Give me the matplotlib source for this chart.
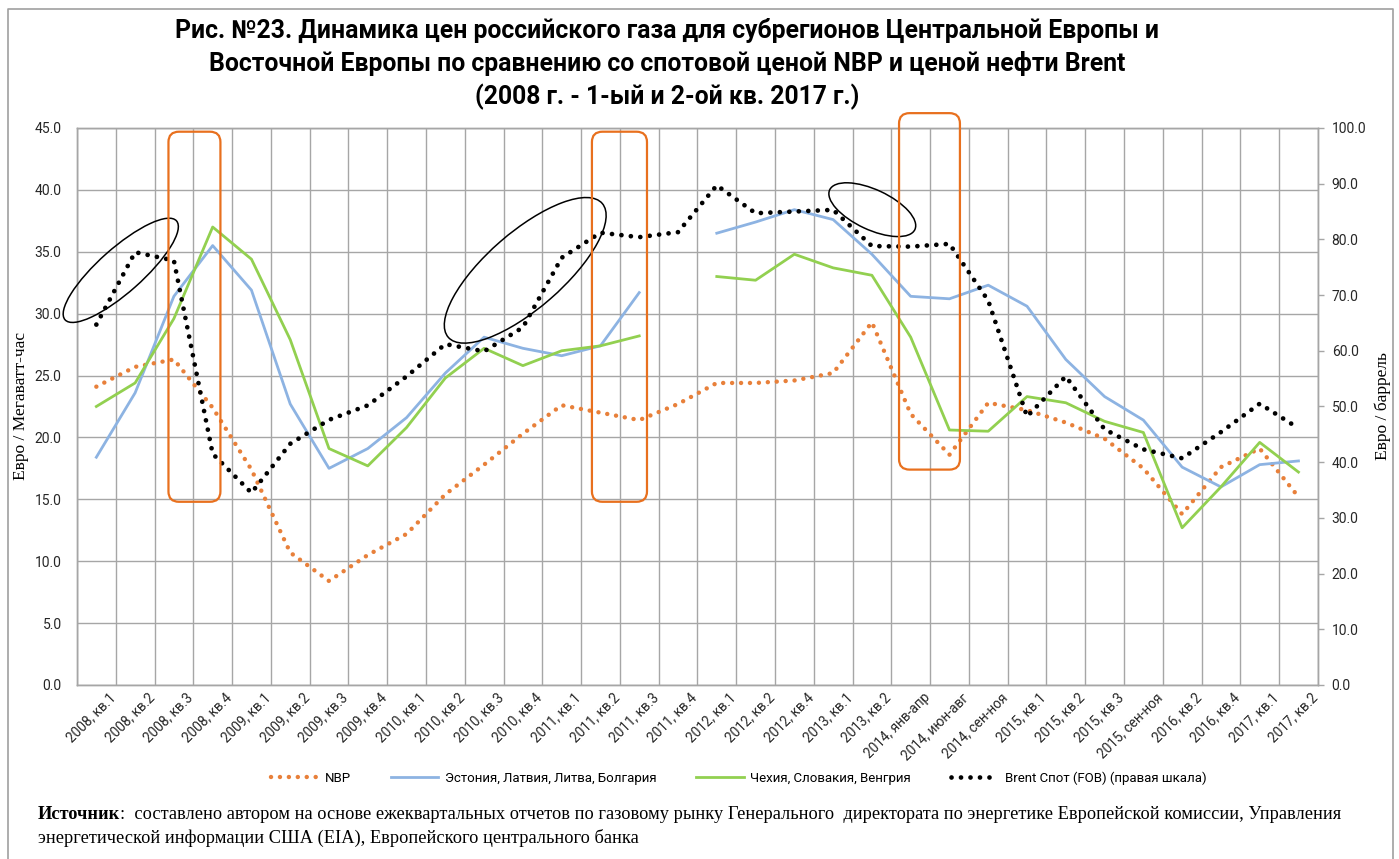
import numpy as np
import matplotlib
matplotlib.use('Agg')
import matplotlib.pyplot as plt
from matplotlib.patches import Ellipse, FancyBboxPatch
from matplotlib.lines import Line2D
from matplotlib.transforms import ScaledTranslation

plt.rcParams['font.family'] = ['Roboto', 'DejaVu Sans']

# Data
categories = ['2008, кв.1', '2008, кв.2', '2008, кв.3', '2008, кв.4',
              '2009, кв.1', '2009, кв.2', '2009, кв.3', '2009, кв.4',
              '2010, кв.1', '2010, кв.2', '2010, кв.3', '2010, кв.4',
              '2011, кв.1', '2011, кв.2', '2011, кв.3', '2011, кв.4',
              '2012, кв.1', '2012, кв.2', '2012, кв.4', '2013, кв.1',
              '2013, кв.2', '2014, янв-апр', '2014, июн-авг', '2014, сен-ноя',
              '2015, кв.1', '2015, кв.2', '2015, кв.3', '2015, сен-ноя',
              '2016, кв.2', '2016, кв.4', '2017, кв.1', '2017, кв.2']

nbp = [24.1, 25.7, 26.3, 22.4, 17.4, 10.7, 8.4, 10.5,
       12.2, 15.4, 17.8, 20.3, 22.6, 22.0, 21.4, 22.7,
       24.4, 24.4, 24.6, 25.2, 29.3, 21.9, 18.6, 22.8,
       22.2, 21.2, 19.9, 17.5, 13.8, 17.6, 19.1, 15.2]

baltic = [18.4, 23.6, 31.4, 35.5, 31.9, 22.7, 17.5, 19.1,
          21.6, 25.2, 28.1, 27.2, 26.6, 27.4, 31.7, np.nan,
          36.5, 37.4, 38.4, 37.6, 34.8, 31.4, 31.2, 32.3,
          30.6, 26.3, 23.3, 21.4, 17.6, 16.0, 17.8, 18.1]

central = [22.5, 24.4, 29.6, 37.0, 34.4, 27.9, 19.1, 17.7,
           20.8, 24.8, 27.2, 25.8, 27.0, 27.4, 28.2, np.nan,
           33.0, 32.7, 34.8, 33.7, 33.1, 28.1, 20.6, 20.5,
           23.3, 22.8, 21.3, 20.4, 12.7, 16.0, 19.6, 17.2]

brent = [64.7, 77.7, 76.2, 41.5, 34.5, 43.3, 47.6, 50.2,
         55.4, 61.2, 59.9, 64.2, 76.7, 81.2, 80.4, 81.3,
         89.7, 84.7, 85.0, 85.3, 78.8, 78.7, 79.2, 69.0,
         48.2, 55.4, 45.9, 42.3, 40.7, 45.4, 50.5, 46.1]

labels = ['NBP', 'Эстония, Латвия, Литва, Болгария',
          'Чехия, Словакия, Венгрия', 'Brent Спот (FOB) (правая шкала)']

c_nbp = '#E8803A'
c_baltic = '#8DB3E2'
c_central = '#92D050'
c_box = '#E8701E'
grid_c = '#A6A6A6'

fig = plt.figure(figsize=(13.99, 8.59), dpi=100)
fig.subplots_adjust(left=0.055, right=0.942, top=0.851, bottom=0.2026)
ax = fig.add_subplot(111)
ax2 = ax.twinx()

x = np.arange(len(categories))
dot = (0, (0.01, 2.0))
ax.plot(x, nbp, color=c_nbp, lw=3.2, linestyle=dot, dash_capstyle='round', zorder=3)
ax.plot(x, baltic, color=c_baltic, lw=2.0, zorder=3)
ax.plot(x, central, color=c_central, lw=2.0, zorder=3)
ax2.plot(x, brent, color='black', lw=3.4, linestyle=dot, dash_capstyle='round', zorder=3)

ax.set_xlim(-0.5, len(categories) - 0.5)
ax.set_ylim(0, 45)
ax2.set_ylim(0, 100)
ax.set_yticks(np.arange(0, 45.1, 5))
ax2.set_yticks(np.arange(0, 100.1, 10))
ax.set_yticklabels([f'{v:.1f}' for v in np.arange(0, 45.1, 5)])
ax2.set_yticklabels([f'{v:.1f}' for v in np.arange(0, 100.1, 10)])

ax.set_xticks(x)
ax.set_xticklabels(categories, rotation=45, ha='right', va='top', rotation_mode='anchor')
ax.set_xticks(np.arange(-0.5, len(categories), 1), minor=True)
ax.tick_params(axis='x', which='both', length=0, labelsize=9.8, colors='#262626', pad=4)
offset = ScaledTranslation(0.12, 0, fig.dpi_scale_trans)
for lbl in ax.get_xticklabels():
    lbl.set_transform(lbl.get_transform() + offset)
ax.tick_params(axis='y', length=0, labelsize=10, colors='#262626', pad=11)
ax2.tick_params(axis='y', length=4, width=1, color=grid_c, labelsize=10,
                labelcolor='#262626', pad=6)

ax.grid(axis='y', which='major', color=grid_c, lw=1)
ax.grid(axis='x', which='minor', color=grid_c, lw=1)
ax.set_axisbelow(True)
for a in (ax, ax2):
    for s in a.spines.values():
        s.set_color(grid_c)
        s.set_linewidth(1)

ax.set_ylabel('Евро / Мегаватт-час', family='Liberation Serif', fontsize=12.5, labelpad=4)
ax2.set_ylabel('Евро / баррель', family='Liberation Serif', fontsize=12.5, labelpad=6,
               rotation=90)

# annotation ellipses (sizes in inches, centred on data points of the left axis)
ellipses = [(0.63, 33.5, 1.49, 0.44, 41.6),
            (11.06, 33.5, 2.04, 0.76, 41.0),
            (20.01, 38.4, 0.94, 0.40, -25.0)]
for ex, ey, w, h, ang in ellipses:
    t = fig.dpi_scale_trans + ScaledTranslation(ex, ey, ax.transData)
    ax2.add_patch(Ellipse((0, 0), w, h, angle=ang, transform=t, fill=False,
                          edgecolor='black', lw=1.1, clip_on=False, zorder=5))

# orange highlight boxes (category span, left-axis values)
boxes = [(1.86, 3.20, 14.8, 44.7),
         (12.78, 14.20, 14.8, 44.7),
         (20.70, 22.27, 17.4, 46.2)]
for x0, x1, y0, y1 in boxes:
    ax2.add_patch(FancyBboxPatch((x0, y0), x1 - x0, y1 - y0,
                                 boxstyle='round,pad=0,rounding_size=0.27',
                                 mutation_aspect=3.1, transform=ax.transData,
                                 fill=False, edgecolor=c_box, lw=1.6,
                                 clip_on=False, zorder=5))

title_lines = ['Рис. №23. Динамика цен российского газа для субрегионов Центральной Европы и',
               'Восточной Европы по сравнению со спотовой ценой NBP и ценой нефти Brent',
               '(2008 г. - 1-ый и 2-ой кв. 2017 г.)']
for line, ty in zip(title_lines, [0.965, 0.926, 0.887]):
    fig.text(0.477, ty, line, ha='center', va='center', fontsize=17.8, fontweight='bold')

handles = [Line2D([], [], color=c_nbp, lw=3.2, linestyle=dot, dash_capstyle='round'),
           Line2D([], [], color=c_baltic, lw=2.0),
           Line2D([], [], color=c_central, lw=2.0),
           Line2D([], [], color='black', lw=3.4, linestyle=dot, dash_capstyle='round')]
fig.legend(handles, labels, loc='center', bbox_to_anchor=(0.528, 0.094), ncol=4,
           frameon=False, fontsize=9.5, handlelength=3.6, columnspacing=3.0,
           handletextpad=0.5)

src_rest = (':  составлено автором на основе ежеквартальных отчетов по газовому рынку '
            'Генерального  директората по энергетике Европейской комиссии, Управления')
src = fig.text(0.027, 0.046, 'Источник', family='Liberation Serif', fontsize=13.2,
               fontweight='bold', va='baseline')
ax.annotate(src_rest, xy=(1, 0), xycoords=src, va='bottom', ha='left',
            family='Liberation Serif', fontsize=13.2, annotation_clip=False)
fig.text(0.027, 0.019, 'энергетической информации США (EIA), Европейского центрального банка',
         family='Liberation Serif', fontsize=13.2, va='baseline')

# outer frame
fig.add_artist(Line2D([0.006, 0.006, 0.9957, 0.9957], [0, 0.9895, 0.9895, 0],
                      transform=fig.transFigure, color='#A0A0A0', lw=1.2))

fig.savefig('out.png', dpi=100)
